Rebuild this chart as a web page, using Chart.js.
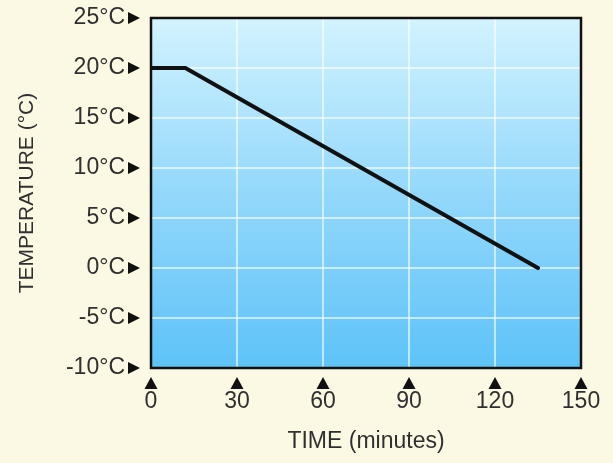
<!DOCTYPE html>
<html lang="en">
<head>
    <meta charset="UTF-8">
    <title>Temperature vs Time</title>
    <style>
        body { margin: 0; background: #fbf8e3; }
        #wrap { width: 613px; height: 463px; }
    </style>
</head>
<body>
    <div id="wrap">
        <canvas id="myChart"></canvas>
    </div>

    <script src="https://cdn.jsdelivr.net/npm/chart.js"></script>

    <script>
        // data
        const times = [0, 12, 135];
        const temps = [20, 20, 0];
        const xTicks = [0, 30, 60, 90, 120, 150];
        const yTicks = [25, 20, 15, 10, 5, 0, -5, -10];

        const textColor = '#303030';
        const ctx = document.getElementById('myChart');

        // background gradient, frame and the little tick triangles
        const decor = {
            id: 'decor',
            beforeDraw(chart) {
                const { ctx, chartArea: a } = chart;
                const g = ctx.createLinearGradient(0, a.top, 0, a.bottom);
                g.addColorStop(0, '#d2f3fe');
                g.addColorStop(0.5, '#93d8fb');
                g.addColorStop(1, '#5ec3f8');
                ctx.save();
                ctx.fillStyle = g;
                ctx.fillRect(a.left, a.top, a.right - a.left, a.bottom - a.top);
                ctx.restore();
            },
            afterDraw(chart) {
                const { ctx, chartArea: a, scales } = chart;
                ctx.save();
                ctx.strokeStyle = '#111';
                ctx.lineWidth = 2.5;
                ctx.strokeRect(a.left, a.top, a.right - a.left, a.bottom - a.top);

                ctx.fillStyle = '#111';
                yTicks.forEach(v => {
                    const y = scales.y.getPixelForValue(v);
                    ctx.beginPath();
                    ctx.moveTo(a.left - 23, y - 6);
                    ctx.lineTo(a.left - 11, y);
                    ctx.lineTo(a.left - 23, y + 6);
                    ctx.closePath();
                    ctx.fill();
                });
                xTicks.forEach(v => {
                    const x = scales.x.getPixelForValue(v);
                    ctx.beginPath();
                    ctx.moveTo(x - 6.5, a.bottom + 21);
                    ctx.lineTo(x, a.bottom + 9);
                    ctx.lineTo(x + 6.5, a.bottom + 21);
                    ctx.closePath();
                    ctx.fill();
                });
                ctx.restore();
            }
        };

        new Chart(ctx, {
            type: 'line',
            data: {
                datasets: [{
                    data: times.map((t, i) => ({ x: t, y: temps[i] })),
                    borderColor: '#111',
                    borderWidth: 4,
                    borderJoinStyle: 'round',
                    borderCapStyle: 'round',
                    pointRadius: 0,
                    tension: 0
                }]
            },
            options: {
                responsive: true,
                maintainAspectRatio: false,
                animation: false,
                layout: { padding: { top: 18, right: 32, left: 0, bottom: 0 } },
                plugins: {
                    legend: { display: false },
                    tooltip: { enabled: false }
                },
                scales: {
                    x: {
                        type: 'linear',
                        min: 0,
                        max: 150,
                        afterFit(scale) {
                            scale.height = 95;
                            scale.paddingLeft = 0;
                            scale.paddingRight = 0;
                        },
                        afterBuildTicks(scale) { scale.ticks = xTicks.map(v => ({ value: v })); },
                        grid: { color: 'rgba(255,255,255,0.6)', lineWidth: 2, drawTicks: false },
                        border: { display: false },
                        ticks: {
                            padding: 20,
                            color: textColor,
                            maxRotation: 0,
                            font: { family: 'Liberation Sans', size: 23 }
                        },
                        title: {
                            display: true,
                            text: 'TIME (minutes)',
                            color: textColor,
                            font: { family: 'Liberation Sans', size: 23 },
                            padding: { top: 0, bottom: 8 }
                        }
                    },
                    y: {
                        min: -10,
                        max: 25,
                        afterFit(scale) {
                            scale.width = 151;
                            scale.paddingTop = 0;
                            scale.paddingBottom = 0;
                        },
                        afterBuildTicks(scale) { scale.ticks = yTicks.map(v => ({ value: v })); },
                        grid: { color: 'rgba(255,255,255,0.6)', lineWidth: 2, drawTicks: false },
                        border: { display: false },
                        ticks: {
                            padding: 26,
                            color: textColor,
                            font: { family: 'Liberation Sans', size: 23 },
                            callback: v => v + '°C'
                        },
                        title: {
                            display: true,
                            text: 'TEMPERATURE (°C)',
                            color: textColor,
                            font: { family: 'Liberation Sans', size: 21 },
                            padding: { top: 15, bottom: 0 }
                        }
                    }
                }
            },
            plugins: [decor]
        });
    </script>
</body>
</html>
